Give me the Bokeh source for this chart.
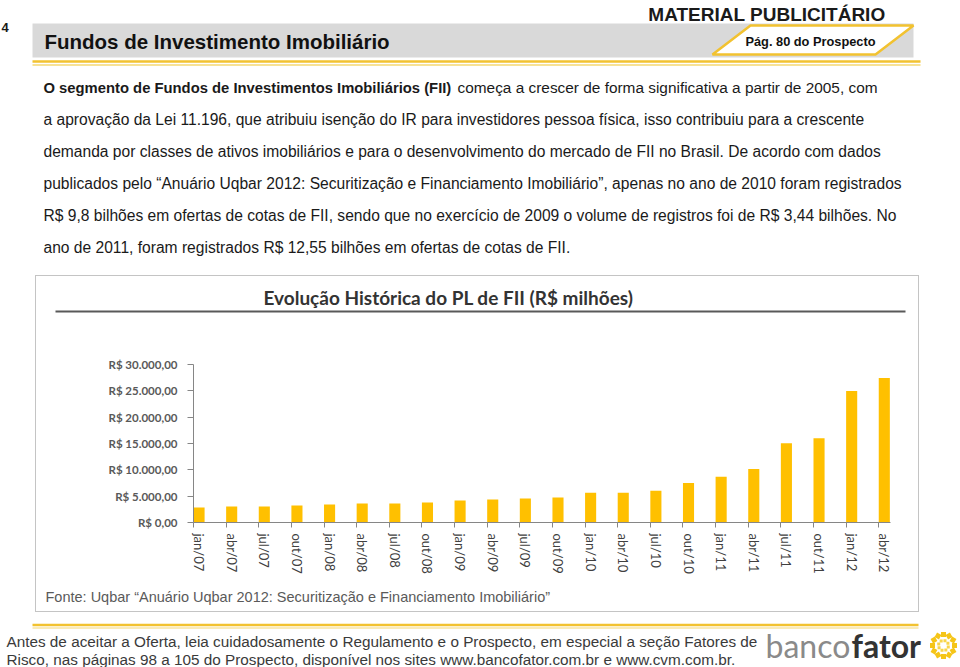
import math
from bokeh.plotting import figure
from bokeh.models import Range1d, FixedTicker, Spacer
from bokeh.layouts import column, row
from bokeh.embed import file_html
from bokeh.resources import INLINE
from bokeh.core.properties import value

# ---------------- data ----------------
months = ["jan/07", "abr/07", "jul/07", "out/07", "jan/08", "abr/08", "jul/08", "out/08",
          "jan/09", "abr/09", "jul/09", "out/09", "jan/10", "abr/10", "jul/10", "out/10",
          "jan/11", "abr/11", "jul/11", "out/11", "jan/12", "abr/12"]
pl_values = [2860, 3050, 3050, 3240, 3430, 3620, 3620, 3810,
             4190, 4380, 4570, 4760, 5660, 5660, 6040, 7500,
             8710, 10170, 15070, 16020, 24980, 27460]
ytick_values = [0, 5000, 10000, 15000, 20000, 25000, 30000]
ytick_labels = ["R$ 0,00", "R$ 5.000,00", "R$ 10.000,00", "R$ 15.000,00",
                "R$ 20.000,00", "R$ 25.000,00", "R$ 30.000,00"]

chart_title = "Evolução Histórica do PL de FII (R$ milhões)"
source_note = "Fonte: Uqbar \u201cAnuário Uqbar 2012: Securitização e Financiamento Imobiliário\u201d"
page_title = "Fundos de Investimento Imobiliário"
page_tag = "MATERIAL PUBLICITÁRIO"
page_ref = "Pág. 80 do Prospecto"
page_number = "4"
para_bold = "O segmento de Fundos de Investimentos Imobiliários (FII)"
para_lines = [
    "começa a crescer de forma significativa a partir de 2005, com",
    "a aprovação da Lei 11.196, que atribuiu isenção do IR para investidores pessoa física, isso contribuiu para a crescente",
    "demanda por classes de ativos imobiliários e para o desenvolvimento do mercado de FII no Brasil. De acordo com dados",
    "publicados pelo \u201cAnuário Uqbar  2012: Securitização e Financiamento Imobiliário\u201d, apenas no ano de 2010 foram registrados",
    "R$ 9,8 bilhões em ofertas de cotas de FII, sendo que no exercício de 2009 o volume de registros foi de R$ 3,44 bilhões. No",
    "ano de 2011, foram registrados R$ 12,55 bilhões em ofertas de cotas de FII.",
]
footer_lines = [
    "Antes de aceitar a Oferta, leia cuidadosamente o Regulamento e o Prospecto, em especial a seção Fatores de",
    "Risco, nas páginas 98 a 105 do Prospecto, disponível nos sites www.bancofator.com.br e www.cvm.com.br.",
]

ARIAL = value("Liberation Sans")
LATO = value("Lato")
YELLOW = "#F2C230"


def pixfig(w, h, x0, y0):
    f = figure(width=w, height=h, x_range=Range1d(x0, x0 + w), y_range=Range1d(y0 + h, y0),
               x_axis_type=None, y_axis_type=None, toolbar_location=None,
               output_backend="svg", min_border=0, outline_line_color=None)
    return f


def txt(f, x, y, s, size, color="#1a1a1a", style="normal", font=ARIAL, align="left"):
    f.text(x=[x], y=[y], text=[s], text_font=font, text_font_size=size,
           text_font_style=style, text_color=color, text_align=align, text_baseline="middle")


# ---------------- top of page ----------------
top = pixfig(960, 275, 0, 0)
txt(top, 1, 27, page_number, "13px", style="bold")
top.quad(left=32, right=913, top=23, bottom=57, fill_color="#d9d9d9", line_color=None)
top.patch([712, 750, 913, 875], [54, 25, 25, 54], fill_color="white",
          line_color=YELLOW, line_width=2.5)
txt(top, 44, 41, page_title, "20.5px", style="bold", color="#111111")
txt(top, 885, 14, page_tag, "19px", style="bold", color="#1a1a1a", align="right")
txt(top, 810, 41, page_ref, "12.8px", style="bold", color="#111111", align="center")
top.segment(x0=[32], x1=[920], y0=[61], y1=[61], line_color=YELLOW, line_width=2.5)
top.segment(x0=[32], x1=[920], y0=[64.5], y1=[64.5], line_color="#f5d873", line_width=1.5)

line_y = [87, 119, 151, 183, 215, 247]
txt(top, 43, line_y[0], para_bold, "14.8px", style="bold")
txt(top, 457, line_y[0], para_lines[0], "15.4px")
for yy, s in zip(line_y[1:], para_lines[1:]):
    txt(top, 43, yy, s, "15.6px")

# ---------------- chart box ----------------
title_fig = pixfig(882, 44, 36, 276)
txt(title_fig, 448, 297, chart_title, "19px", style="bold", color="#333333", font=LATO, align="center")
title_fig.segment(x0=[55], x1=[905], y0=[311], y1=[311], line_color="#595959", line_width=2)

n = len(months)
bar_off = 0.17
xpos = [i + bar_off for i in range(n)]

chart = figure(width=882, height=262, x_range=Range1d(0, 21.36), y_range=Range1d(0, 30000),
               toolbar_location=None, output_backend="svg",
               min_border_left=157, min_border_right=28, min_border_top=44, min_border_bottom=60,
               outline_line_color=None)
chart.vbar(x=xpos, top=pl_values, width=0.34, fill_color="#FFC000", line_color=None)
chart.xgrid.visible = False
chart.ygrid.visible = False

xa = chart.xaxis[0]
xa.ticker = FixedTicker(ticks=xpos, minor_ticks=list(range(n)))
xa.major_label_overrides = {x: m for x, m in zip(xpos, months)}
xa.major_label_orientation = "vertical"
xa.major_tick_out = 0
xa.major_tick_in = 0
xa.minor_tick_out = 5
xa.minor_tick_in = 0
xa.minor_tick_line_color = "#868686"
xa.axis_line_color = "#868686"
xa.major_label_standoff = 6
xa.major_label_text_font = "Lato"
xa.major_label_text_font_size = "13px"
xa.major_label_text_color = "#404040"

ya = chart.yaxis[0]
ya.ticker = FixedTicker(ticks=ytick_values)
ya.major_label_overrides = {v: l for v, l in zip(ytick_values, ytick_labels)}
ya.bounds = (0, 30000)
ya.minor_tick_line_color = None
ya.major_tick_out = 6
ya.major_tick_in = 0
ya.major_tick_line_color = "#868686"
ya.axis_line_color = "#868686"
ya.major_label_standoff = 10
ya.major_label_text_font = "Lato"
ya.major_label_text_font_style = "bold"
ya.major_label_text_font_size = "11.5px"
ya.major_label_text_color = "#595959"

fonte_fig = pixfig(882, 29, 36, 582)
txt(fonte_fig, 45, 596, source_note, "14.5px", color="#5a5a5a")

chart_box = column(row(title_fig), row(chart), row(fonte_fig), spacing=0,
                   styles={"border": "1px solid #c4c4c4"})
middle = row(Spacer(width=35, height=337), chart_box, spacing=0)

# ---------------- footer ----------------
foot = pixfig(960, 55, 0, 612)
foot.segment(x0=[32], x1=[918], y0=[624.5], y1=[624.5], line_color=YELLOW, line_width=2.5)
foot.segment(x0=[32], x1=[918], y0=[627.5], y1=[627.5], line_color="#f5d873", line_width=1.2)
txt(foot, 6, 641, footer_lines[0], "15.3px", color="#3a3a3a")
txt(foot, 6, 659, footer_lines[1], "15.3px", color="#3a3a3a")
txt(foot, 765, 645, "banco", "32px", color="#8a8a8a", font=LATO)
txt(foot, 851, 645, "fator", "32px", color="#333333", style="bold", font=LATO)
# logo sun (decorative)
cx, cy = 943, 645
ang = [k * 2 * math.pi / 12 for k in range(12)]
foot.scatter(x=[cx + 11 * math.cos(a) for a in ang], y=[cy + 11 * math.sin(a) for a in ang],
             size=5, marker="square", angle=ang, fill_color="#F5C518", line_color=None)
ang2 = [k * 2 * math.pi / 8 + 0.3 for k in range(8)]
foot.scatter(x=[cx + 5 * math.cos(a) for a in ang2], y=[cy + 5 * math.sin(a) for a in ang2],
             size=3, marker="square", fill_color="#F8D54A", line_color=None)

page = column(top, middle, foot, spacing=0)
open("out.html", "w").write(file_html(page, INLINE))
